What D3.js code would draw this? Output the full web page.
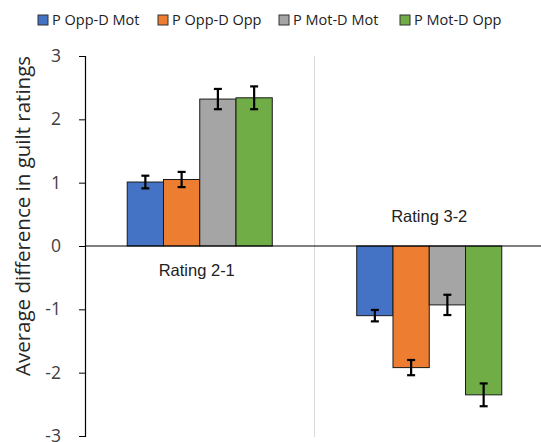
<!DOCTYPE html>
<html>
<head>
<meta charset="utf-8">
<script src="https://cdn.jsdelivr.net/npm/d3@7"></script>
<style>
  body { margin: 0; background: #fff; }
  svg { display: block; }
  .tick text { font-family: "Open Sans", sans-serif; font-size: 17.5px; fill: #404040; }
</style>
</head>
<body>
<script>
// chart values
var categories = ["Rating 2-1", "Rating 3-2"];
var seriesNames = ["P Opp-D Mot", "P Opp-D Opp", "P Mot-D Mot", "P Mot-D Opp"];
var rating21 = [1.01, 1.05, 2.32, 2.34];
var rating32 = [-1.10, -1.92, -0.93, -2.35];
var err21 = [0.10, 0.12, 0.16, 0.18];
var err32 = [0.09, 0.12, 0.16, 0.18];
var yTicks = [-3, -2, -1, 0, 1, 2, 3];
var colors = ["#4472C4", "#ED7D31", "#A5A5A5", "#70AD47"];

// size of svg
var fullWidth = 541;
var fullHeight = 442;
var margin = {top: 56, right: -3, bottom: 6, left: 85};

var values = [rating21, rating32];
var errors = [err21, err32];

var svg = d3.select("body")
            .append("svg")
            .attr("width", fullWidth)
            .attr("height", fullHeight);

// scales
var x0 = d3.scaleBand()
           .domain(categories)
           .range([margin.left, fullWidth - margin.right])
           .paddingInner(0.368)
           .paddingOuter(0.184);

var x1 = d3.scaleBand()
           .domain(seriesNames)
           .range([0, x0.bandwidth()]);

var yScale = d3.scaleLinear()
               .domain([-3, 3])
               .range([fullHeight - margin.bottom, margin.top]);

// separator between the two categories
svg.append("line")
   .attr("x1", x0(categories[1]) - x0.step() * 0.184)
   .attr("x2", x0(categories[1]) - x0.step() * 0.184)
   .attr("y1", yScale(3))
   .attr("y2", yScale(-3) + 1)
   .style("stroke", "#d9d9d9")
   .style("stroke-width", 1);

// y axis
var yAxis = d3.axisLeft(yScale)
              .tickValues(yTicks)
              .tickSize(6)
              .tickPadding(18)
              .tickFormat(d3.format("d"));

var yG = svg.append("g")
   .attr("transform", "translate(" + margin.left + ",0)")
   .call(yAxis);
yG.select(".domain").attr("stroke", "#000").attr("stroke-width", 1.2);
yG.selectAll(".tick line").attr("stroke", "#000");
yG.selectAll(".tick text").text(function(d) { return d < 0 ? "-" + Math.abs(d) : d; });

// bars
var groups = svg.selectAll(".group")
                .data(categories)
                .enter()
                .append("g")
                .attr("class", "group")
                .attr("transform", function(d) { return "translate(" + x0(d) + ",0)"; });

groups.selectAll("rect")
      .data(function(d, i) {
          return seriesNames.map(function(s, j) {
              return {series: s, value: values[i][j], err: errors[i][j], c: j};
          });
      })
      .enter()
      .append("rect")
      .attr("x", function(d) { return x1(d.series); })
      .attr("width", x1.bandwidth())
      .attr("y", function(d) { return yScale(Math.max(0, d.value)); })
      .attr("height", function(d) { return Math.abs(yScale(d.value) - yScale(0)); })
      .style("fill", function(d) { return colors[d.c]; })
      .style("stroke", "#1a1a1a")
      .style("stroke-width", 1);

// error bars
var eb = groups.selectAll(".err")
               .data(function(d, i) {
                   return seriesNames.map(function(s, j) {
                       return {series: s, value: values[i][j], err: errors[i][j]};
                   });
               })
               .enter()
               .append("g")
               .attr("class", "err")
               .attr("transform", function(d) {
                   return "translate(" + (x1(d.series) + x1.bandwidth() / 2) + ",0)";
               });

eb.append("line")
  .attr("y1", function(d) { return yScale(d.value + d.err); })
  .attr("y2", function(d) { return yScale(d.value - d.err); })
  .style("stroke", "#000").style("stroke-width", 2.2);
eb.append("line")
  .attr("x1", -4).attr("x2", 4)
  .attr("y1", function(d) { return yScale(d.value + d.err); })
  .attr("y2", function(d) { return yScale(d.value + d.err); })
  .style("stroke", "#000").style("stroke-width", 2.2);
eb.append("line")
  .attr("x1", -4).attr("x2", 4)
  .attr("y1", function(d) { return yScale(d.value - d.err); })
  .attr("y2", function(d) { return yScale(d.value - d.err); })
  .style("stroke", "#000").style("stroke-width", 2.2);

// zero line
svg.append("line")
   .attr("x1", margin.left)
   .attr("x2", fullWidth)
   .attr("y1", yScale(0))
   .attr("y2", yScale(0))
   .style("stroke", "#000")
   .style("stroke-width", 1.2);

// category labels
svg.append("text")
   .attr("x", x0(categories[0]) + x0.bandwidth() / 2 - 3)
   .attr("y", yScale(0) + 30)
   .style("font-family", "Liberation Sans, Arial, sans-serif")
   .style("font-size", "16.5px")
   .style("fill", "#222")
   .style("text-anchor", "middle")
   .text(categories[0]);

svg.append("text")
   .attr("x", x0(categories[1]) + x0.bandwidth() / 2)
   .attr("y", yScale(0) - 24)
   .style("font-family", "Liberation Sans, Arial, sans-serif")
   .style("font-size", "16.5px")
   .style("fill", "#222")
   .style("text-anchor", "middle")
   .text(categories[1]);

// y axis title
svg.append("text")
   .attr("transform", "translate(23," + 216 + ") rotate(-90)")
   .attr("dy", "0.35em")
   .style("font-family", "Open Sans, sans-serif")
   .style("font-size", "20.5px")
   .style("fill", "#262626")
   .style("text-anchor", "middle")
   .text("Average difference in guilt ratings");

// legend
var legendX = [38, 158, 279, 400];
var legend = svg.selectAll(".legend")
                .data(seriesNames)
                .enter()
                .append("g")
                .attr("class", "legend")
                .attr("transform", function(d, i) { return "translate(" + legendX[i] + ",15)"; });

legend.append("rect")
      .attr("width", 10)
      .attr("height", 10)
      .style("fill", function(d, i) { return colors[i]; })
      .style("stroke", "#333")
      .style("stroke-width", 1);

legend.append("text")
      .attr("x", 14)
      .attr("y", 5)
      .attr("dy", "0.36em")
      .style("font-family", "Open Sans, sans-serif")
      .style("font-size", "14.5px")
      .style("fill", "#222")
      .text(function(d) { return d; });
</script>
</body>
</html>
